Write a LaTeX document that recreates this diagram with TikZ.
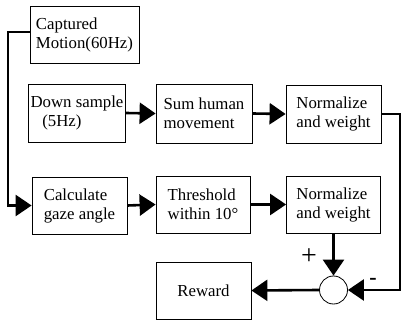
\documentclass[tikz,border=0pt]{standalone}
\usepackage{fontspec}
\setmainfont{Liberation Serif}
\usetikzlibrary{arrows.meta}
\begin{document}
\begin{tikzpicture}[x=1pt,y=1pt,
  box/.style={draw, line width=0.8pt, align=left, inner sep=2pt, font=\fontsize{16.8}{19}\selectfont},
  conn/.style={line width=2.6pt},
  arr/.style={conn, -{Triangle[length=16pt,width=21pt]}}]
\useasboundingbox (0,0) rectangle (402,-323);
\node[box, minimum width=109, minimum height=57] (cap) at (84.5,-34.5) {Captured\\Motion(60Hz)};
\node[box, minimum width=94, minimum height=58] (down) at (77,-113) {Down sample\\\hspace{0.7em}(5Hz)};
\node[box, minimum width=96, minimum height=59] (sum) at (204,-113.5) {Sum human\\movement};
\node[box, minimum width=95, minimum height=58] (norm1) at (333.5,-114) {Normalize\\and weight};
\node[box, minimum width=95, minimum height=57] (calc) at (79.5,-205.5) {Calculate\\gaze angle};
\node[box, minimum width=94, minimum height=57] (thr) at (203,-204.5) {Threshold\\within 10°};
\node[box, minimum width=94, minimum height=57] (norm2) at (333.5,-204.5) {Normalize\\and weight};
\node[box, minimum width=95, minimum height=57, align=center] (rew) at (203.5,-290.5) {Reward};
\node[draw, line width=0.8pt, circle, minimum size=28, inner sep=0pt] (sumc) at (333.5,-290) {};
\node[font=\fontsize{28}{28}\selectfont, inner sep=0pt] (plus) at (309,-257) {+};
\node[font=\fontsize{22}{22}\selectfont\bfseries] (minus) at (373,-281) {-};
\coordinate (c1) at (8,-32);
\coordinate (c2) at (8,-205.5);
\coordinate (c3) at (400,-114);
\coordinate (c4) at (400,-290);
\draw[arr] (cap.west |- c1) -- (c1) -- (c2) -- (calc.west);
\draw[arr] (down.east) -- (sum.west);
\draw[arr] (sum.east) -- (norm1.west);
\draw[arr] (calc.east) -- (thr.west);
\draw[arr] (thr.east) -- (norm2.west);
\draw[arr] (norm2.south) -- (sumc.north);
\draw[arr] (norm1.east) -- (c3) -- (c4) -- (sumc.east);
\draw[arr] (sumc.west) -- (rew.east);
\end{tikzpicture}
\end{document}
